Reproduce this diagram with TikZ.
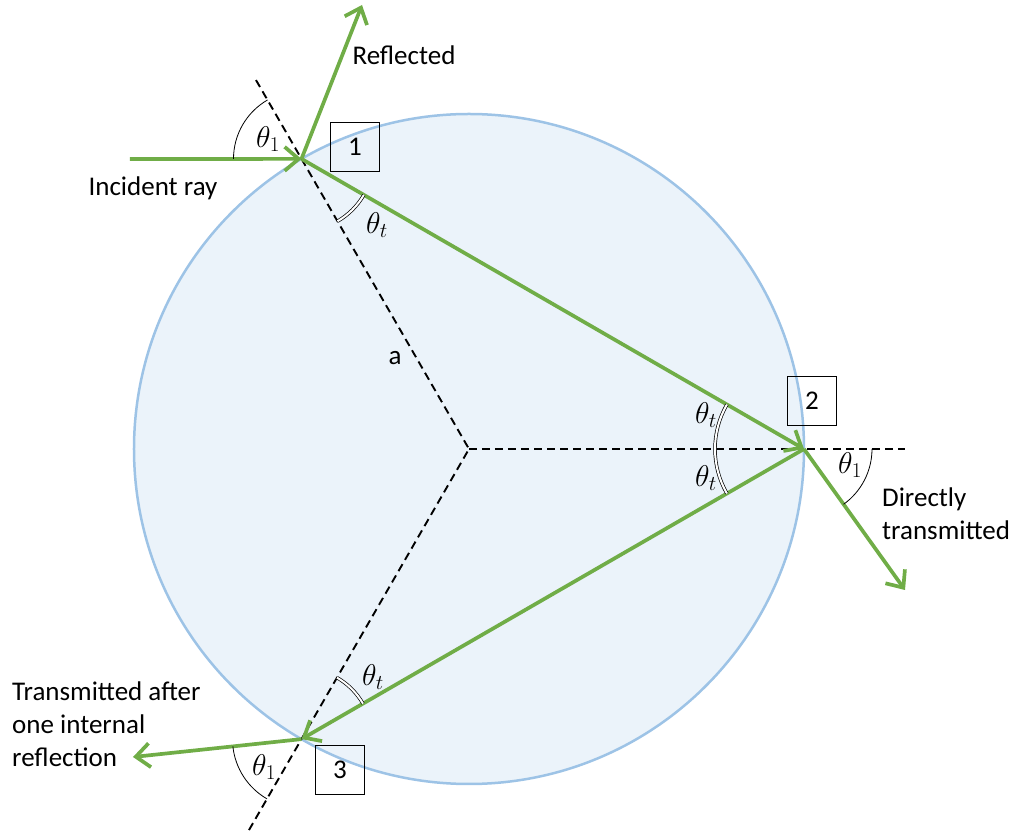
\RequirePackage{fix-cm}
\documentclass[tikz,border=0pt]{standalone}
\usepackage{fontspec}
\setmainfont{Carlito}
\usetikzlibrary{arrows.meta,positioning,calc}
\definecolor{raygreen}{HTML}{70AD47}
\definecolor{dropline}{HTML}{9DC3E6}
\definecolor{dropfill}{HTML}{EBF3FA}

\begin{document}
\begin{tikzpicture}[
        x=1pt,y=1pt,
        font=\fontsize{27}{33}\selectfont,
        ray/.style={draw=raygreen,line width=3.7pt,-{Straight Barb[length=14pt,width=24pt]}},
        normal/.style={dash pattern=on 8pt off 5pt,line width=1.9pt},
        numbox/.style={draw,line width=1.6pt,minimum size=49pt,inner sep=0pt},
        ang/.style={line width=0.8pt},
        dblang/.style={double,double distance=2pt,line width=0.7pt},
        sym/.style={font=\fontsize{30}{34}\selectfont,inner sep=1pt},
        lbl/.style={align=left,inner sep=0pt}
    ]
    \useasboundingbox (-469,-385) rectangle (562,449);

    % the drop
    \draw[dropline,fill=dropfill,line width=2.5pt] (0,0) circle[radius=335];

    \coordinate (O) at (0,0);
    \coordinate (p1) at (120:335);
    \coordinate (p2) at (0:335);
    \coordinate (p3) at (240:335);
    \coordinate (n1) at (120:426);
    \coordinate (n2) at (436,0);
    \coordinate (n3) at (240:440);
    \coordinate (src) at (-339,290);
    \coordinate (refl) at (-107,444);
    \coordinate (out2) at (436,-141);
    \coordinate (out3) at (-336,-308);

    % normals through the centre
    \draw[normal] (n1) -- (O) -- (n3);
    \draw[normal] (O) -- (n2);

    % rays
    \draw[ray] (src) -- (p1);
    \draw[ray] (p1) -- (refl);
    \draw[ray] (p1) -- (p2);
    \draw[ray] (p2) -- (p3);
    \draw[ray] (p2) -- (out2);
    \draw[ray] (p3) -- (out3);

    % angles
    \draw[ang] ([shift={(180:68)}]p1) arc[start angle=180,end angle=120,radius=68];
    \draw[dblang] ([shift={(-60:72)}]p1) arc[start angle=-60,end angle=-30,radius=72];
    \draw[dblang] ([shift={(150:89)}]p2) arc[start angle=150,end angle=210,radius=89];
    \draw[ang] ([shift={(0:68)}]p2) arc[start angle=0,end angle=-54.4,radius=68];
    \draw[dblang] ([shift={(30:71)}]p3) arc[start angle=30,end angle=60,radius=71];
    \draw[ang] ([shift={(186.1:69)}]p3) arc[start angle=186.1,end angle=240,radius=69];

    \node[sym] (th1a) at (-201,310) {$\theta_1$};
    \node[sym] (tta) at (-92,224) {$\theta_t$};
    \node[sym] (ttb) at (237,34) {$\theta_t$};
    \node[sym] (ttc) at (237,-29) {$\theta_t$};
    \node[sym] (th1b) at (381,-16) {$\theta_1$};
    \node[sym] (ttd) at (-96,-228) {$\theta_t$};
    \node[sym] (th1c) at (-205,-318) {$\theta_1$};
    \node (rad) at (-74,91) {a};

    % numbered points
    \node[numbox] (box1) at (-114,302) {1};
    \node[numbox] (box2) at (343,48) {2};
    \node[numbox] (box3) at (-129,-321) {3};

    % captions
    \node (reflected) at (-65,394) {Reflected};
    \node (incident) at (-316,261) {Incident ray};
    \node[lbl,anchor=west] (direct) at (413,-65) {Directly\\transmitted};
    \node[lbl,anchor=west] (internal) at (-457,-275) {Transmitted after\\one internal\\reflection};
\end{tikzpicture}
\end{document}
